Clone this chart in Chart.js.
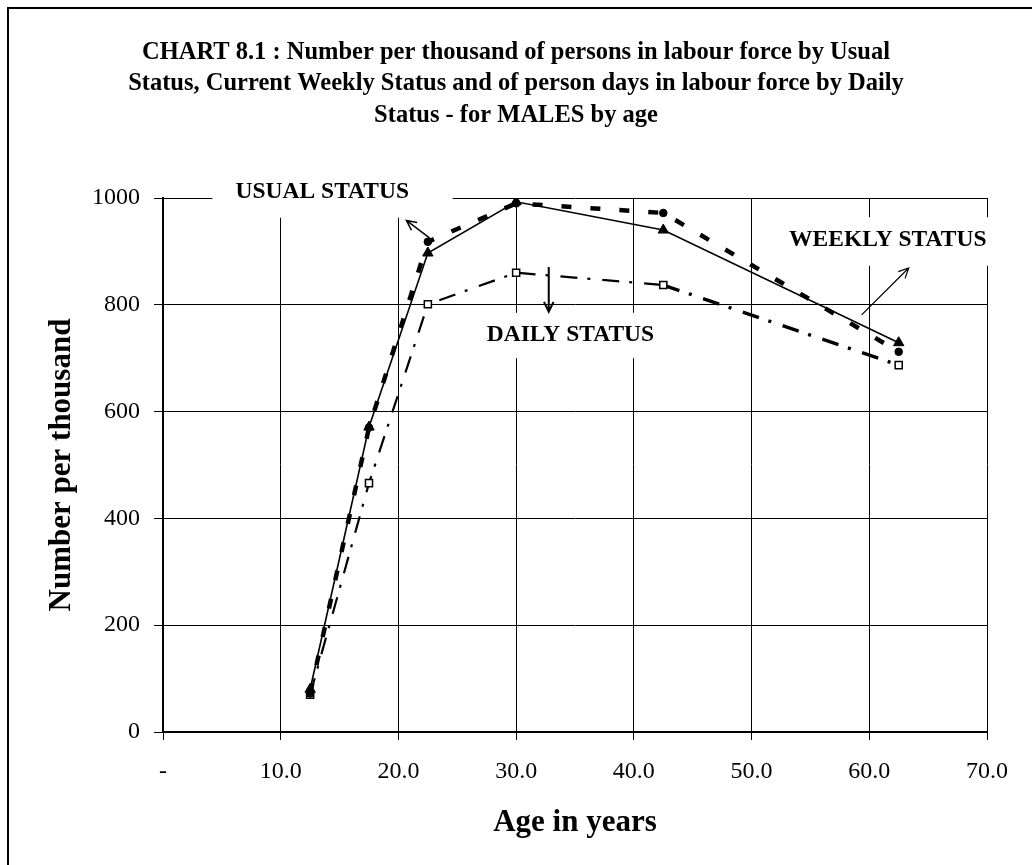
<!DOCTYPE html>
<html>
<head>
<meta charset="utf-8">
<script src="https://cdn.jsdelivr.net/npm/chart.js@4/dist/chart.umd.min.js"></script>
<style>
  html, body { margin: 0; padding: 0; background: #fff; }
  #wrap { position: relative; width: 1032px; height: 865px; overflow: hidden; }
  #wrap canvas { position: absolute; left: 0; top: 0; }
  #frame { position: absolute; left: 7px; top: 7px; width: 1200px; height: 1000px;
           border: 2px solid #000; box-sizing: border-box; pointer-events: none; }
</style>
</head>
<body>
<div id="wrap">
  <canvas id="chart" width="1032" height="865"></canvas>
  <div id="frame"></div>
</div>
<script>
// Age-group mid points (years)
const ages = [12.5, 17.5, 22.5, 30, 42.5, 62.5];

// Number per thousand, males
const usualStatus  = [72, 570, 918, 990, 972, 712];
const weeklyStatus = [80, 571, 897, 993, 940, 729];
const dailyStatus  = [70, 466, 801, 860, 837, 687];

// Axis ticks
const xTicks = [0, 10, 20, 30, 40, 50, 60, 70];
const yTicks = [0, 200, 400, 600, 800, 1000];

const titleLines = [
  'CHART 8.1 : Number per thousand of persons in labour force by Usual',
  'Status, Current Weekly Status and of person days in labour force by Daily',
  'Status - for MALES by age'
];

const FONT = "'Liberation Serif', 'Times New Roman', serif";

const toPoints = vals => ages.map((a, i) => ({ x: a, y: vals[i] }));

// Callout labels (white boxes) and their pointer arrows, in axis units
const callouts = [
  { text: 'USUAL STATUS',  tx: 13.53, ty: 1011, box: [4.2, 1065, 24.6, 963],
    arrow: [22.66, 925, 20.68, 958], arrowWidth: 1.5 },
  { text: 'WEEKLY STATUS', tx: 61.57, ty: 921,  box: [52.0, 964, 71.1, 873],
    arrow: [59.35, 781, 63.35, 869], arrowWidth: 1.2 },
  { text: 'DAILY STATUS',  tx: 34.61, ty: 743,  box: [26.2, 785, 43.05, 700],
    arrow: [32.77, 871, 32.77, 787], arrowWidth: 2 }
];

const calloutPlugin = {
  id: 'callouts',
  beforeDatasetsDraw(chart) {
    const { ctx, scales: { x, y } } = chart;
    ctx.save();
    callouts.forEach(c => {
      const x1 = x.getPixelForValue(c.box[0]), y1 = y.getPixelForValue(c.box[1]);
      const x2 = x.getPixelForValue(c.box[2]), y2 = y.getPixelForValue(c.box[3]);
      ctx.fillStyle = '#fff';
      ctx.fillRect(x1, y1, x2 - x1, y2 - y1);
      ctx.fillStyle = '#000';
      ctx.font = 'bold 23.5px ' + FONT;
      ctx.textAlign = 'center';
      ctx.textBaseline = 'middle';
      ctx.fillText(c.text, x.getPixelForValue(c.tx), y.getPixelForValue(c.ty));
    });
    callouts.forEach(c => {
      const ax = x.getPixelForValue(c.arrow[0]), ay = y.getPixelForValue(c.arrow[1]);
      const bx = x.getPixelForValue(c.arrow[2]), by = y.getPixelForValue(c.arrow[3]);
      const ang = Math.atan2(by - ay, bx - ax);
      const head = 11, spread = 0.45;
      ctx.strokeStyle = '#000';
      ctx.lineWidth = c.arrowWidth;
      ctx.setLineDash([]);
      ctx.beginPath();
      ctx.moveTo(ax, ay);
      ctx.lineTo(bx, by);
      ctx.moveTo(bx - head * Math.cos(ang - spread), by - head * Math.sin(ang - spread));
      ctx.lineTo(bx, by);
      ctx.lineTo(bx - head * Math.cos(ang + spread), by - head * Math.sin(ang + spread));
      ctx.stroke();
    });
    ctx.restore();
  }
};

const titlePlugin = {
  id: 'chartTitle',
  afterDraw(chart) {
    const { ctx } = chart;
    ctx.save();
    ctx.fillStyle = '#000';
    ctx.font = 'bold 24.5px ' + FONT;
    ctx.textAlign = 'center';
    ctx.textBaseline = 'alphabetic';
    titleLines.forEach((t, i) => ctx.fillText(t, 516, 59 + i * 31.4));
    ctx.restore();
  }
};

new Chart(document.getElementById('chart'), {
  type: 'line',
  data: {
    datasets: [
      {
        label: 'DAILY STATUS',
        data: toPoints(dailyStatus),
        borderColor: '#000',
        borderWidth: 2.2,
        borderDash: [17, 10, 3, 12],
        segment: { borderWidth: c => (c.p1DataIndex === ages.length - 1 ? 3.4 : 2.2) },
        pointStyle: 'rect',
        pointRadius: 5,
        pointBackgroundColor: '#fff',
        pointBorderColor: '#000',
        pointBorderWidth: 1.5,
        tension: 0,
        order: 3
      },
      {
        label: 'USUAL STATUS',
        data: toPoints(usualStatus),
        borderColor: '#000',
        borderWidth: 4.5,
        borderDash: [10, 19],
        borderCapStyle: 'butt',
        pointStyle: 'circle',
        pointRadius: 3.8,
        pointBackgroundColor: '#000',
        pointBorderColor: '#000',
        pointBorderWidth: 1,
        tension: 0,
        order: 2
      },
      {
        label: 'WEEKLY STATUS',
        data: toPoints(weeklyStatus),
        borderColor: '#000',
        borderWidth: 1.6,
        pointStyle: 'triangle',
        pointRadius: 6,
        pointBackgroundColor: '#000',
        pointBorderColor: '#000',
        pointBorderWidth: 1,
        tension: 0,
        order: 1
      }
    ]
  },
  options: {
    responsive: false,
    animation: false,
    devicePixelRatio: 1,
    layout: { padding: { top: 198, left: 0, right: 45, bottom: 0 } },
    plugins: {
      legend: { display: false },
      tooltip: { enabled: false },
      title: { display: false }
    },
    scales: {
      x: {
        type: 'linear',
        min: 0,
        max: 70,
        afterBuildTicks: s => { s.ticks = xTicks.map(v => ({ value: v })); },
        afterFit: s => { s.height = 133; },
        grid: { color: '#000', lineWidth: 1, tickLength: 8, drawTicks: true },
        border: { color: '#000', width: 2 },
        ticks: {
          color: '#000',
          font: { family: FONT, size: 24 },
          padding: 17,
          maxRotation: 0,
          autoSkip: false,
          callback: v => (v === 0 ? '-' : Number(v).toFixed(1))
        },
        title: {
          display: true,
          text: 'Age in years',
          color: '#000',
          font: { family: FONT, size: 31, weight: 'bold' },
          padding: { top: 0, bottom: 23 }
        }
      },
      y: {
        type: 'linear',
        min: 0,
        max: 1000,
        afterBuildTicks: s => { s.ticks = yTicks.map(v => ({ value: v })); },
        afterFit: s => { s.width = 163; },
        grid: { color: '#000', lineWidth: 1, tickLength: 9, drawTicks: true },
        border: { color: '#000', width: 2 },
        ticks: {
          color: '#000',
          font: { family: FONT, size: 24 },
          padding: 14,
          callback: v => String(v)
        },
        title: {
          display: true,
          text: 'Number per thousand',
          color: '#000',
          font: { family: FONT, size: 31, weight: 'bold' },
          padding: { top: 43, bottom: 0 }
        }
      }
    }
  },
  plugins: [calloutPlugin, titlePlugin]
});
</script>
</body>
</html>
